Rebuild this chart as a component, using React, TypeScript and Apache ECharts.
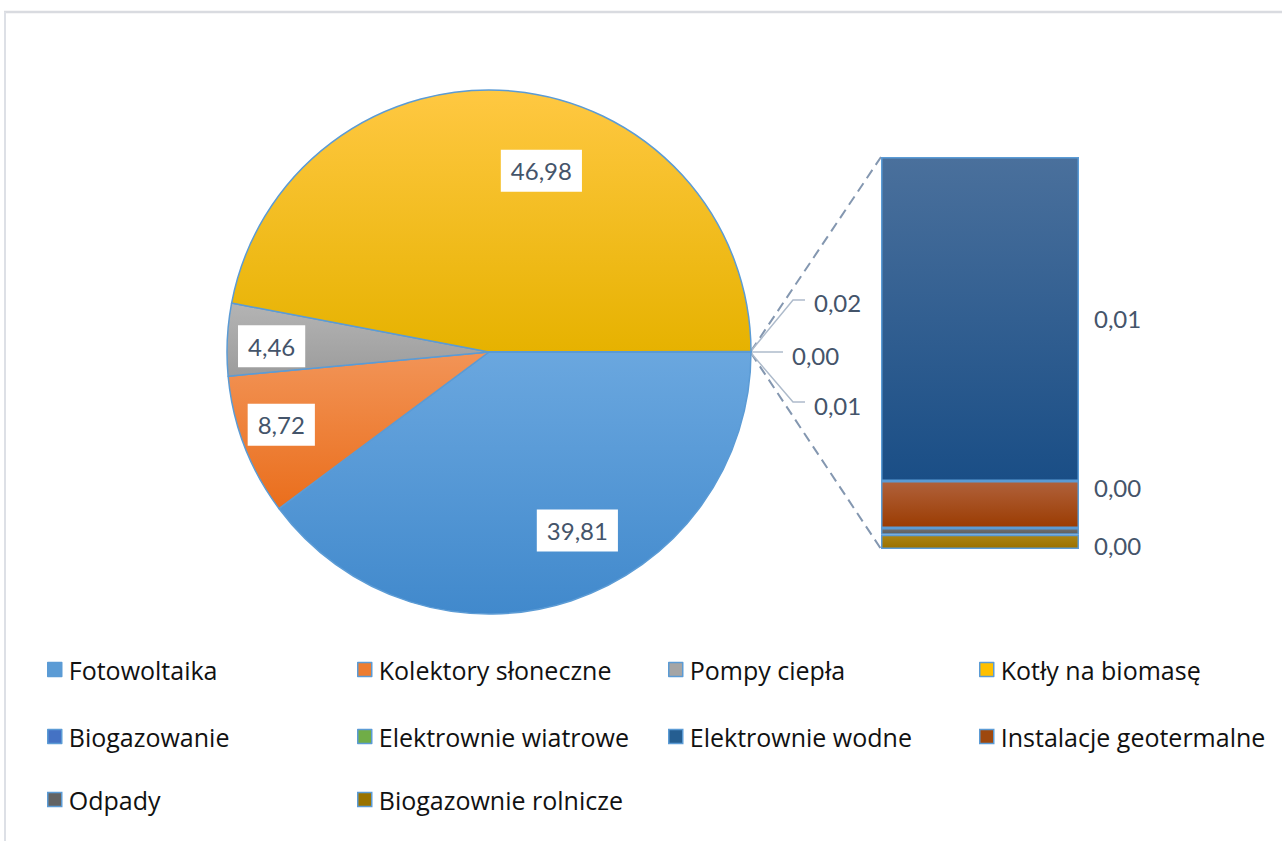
import React, { useEffect, useRef } from "react";
import * as echarts from "echarts";

// ---- data ----
const pieCategories = [
  "Fotowoltaika",
  "Kolektory słoneczne",
  "Pompy ciepła",
  "Kotły na biomasę",
  "Biogazowanie",
  "Elektrownie wiatrowe",
];
const pieValues = [39.81, 8.72, 4.46, 46.98, 0.02, 0.003];
const otherName = "Pozostałe";
const barCategories = [
  "Elektrownie wodne",
  "Instalacje geotermalne",
  "Odpady",
  "Biogazownie rolnicze",
];
const barValues = [0.008, 0.00116, 0.00017, 0.00035];

// ---- styles / layout ----
const FONT = "Lato, 'Noto Sans', sans-serif";
const LEGEND_FONT = "'Open Sans', 'Noto Sans', sans-serif";
const LABEL_COLOR = "#44546A";
const BORDER = "#5B9BD5";
const PIE_CX = 489;
const PIE_CY = 352;
const PIE_R = 262;
const BAR_LEFT = 881;
const BAR_TOP = 157;
const BAR_W = 198;
const BAR_H = 392;

const flatColors: Record<string, string> = {
  Fotowoltaika: "#5B9BD5",
  "Kolektory słoneczne": "#ED7D31",
  "Pompy ciepła": "#A5A5A5",
  "Kotły na biomasę": "#FFC000",
  Biogazowanie: "#4472C4",
  "Elektrownie wiatrowe": "#70AD47",
  "Elektrownie wodne": "#255E91",
  "Instalacje geotermalne": "#9E480E",
  Odpady: "#636363",
  "Biogazownie rolnicze": "#997300",
};
const gradStops: Record<string, [string, string]> = {
  Fotowoltaika: ["#6AA7DF", "#4189CC"],
  "Kolektory słoneczne": ["#F29457", "#EA6E1C"],
  "Pompy ciepła": ["#B4B4B4", "#9C9C9C"],
  "Kotły na biomasę": ["#FFC842", "#E6B200"],
  Biogazowanie: ["#4F7ED0", "#3D68B8"],
  "Elektrownie wiatrowe": ["#7CBB52", "#64A03D"],
  [otherName]: ["#4A709C", "#1A4E86"],
  "Elektrownie wodne": ["#4A709C", "#1A4E86"],
  "Instalacje geotermalne": ["#B0613B", "#9B3C02"],
  Odpady: ["#707070", "#5E5E5E"],
  "Biogazownie rolnicze": ["#AB8414", "#9A7100"],
};

const grad = (name: string) =>
  new echarts.graphic.LinearGradient(0, 0, 0, 1, [
    { offset: 0, color: gradStops[name][0] },
    { offset: 1, color: gradStops[name][1] },
  ]);

const fmt = (v: number) => v.toFixed(2).replace(".", ",");

// label placement tweaks for big slices: [angle offset deg, radius fraction]
const insideTweak: [number, number][] = [
  [-8, 0.76],
  [1.7, 0.84],
  [-1.2, 0.83],
  [10.8, 0.72],
];

export default function App() {
  const ref = useRef<HTMLDivElement>(null);

  useEffect(() => {
    if (!ref.current) return;
    const chart = echarts.init(ref.current, undefined, { renderer: "svg" });

    const otherValue = barValues.reduce((a, b) => a + b, 0);
    const allPieValues = [...pieValues, otherValue];
    const total = allPieValues.reduce((a, b) => a + b, 0);
    const midAngles: number[] = [];
    let acc = 0;
    allPieValues.forEach((v) => {
      midAngles.push(((acc + v / 2) / total) * 360);
      acc += v;
    });

    const pieData = [...pieCategories, otherName].map((name, i) => {
      const big = i < 4;
      return {
        name,
        value: allPieValues[i],
        itemStyle: { color: grad(name) },
        label: big
          ? {
              position: "inside",
              backgroundColor: "#ffffff",
              padding: [7, 10, 7, 10],
            }
          : { position: "outside" },
        labelLine: big
          ? { show: false }
          : {
              show: true,
              length: 20,
              length2: 12,
              lineStyle: { color: "#AEBBCB", width: 1.5 },
            },
      };
    });

    const edgeX = PIE_CX + PIE_R;
    const smallLayout: Record<number, { dx: number; dy: number; line: number[][] }> = {
      4: { dx: 63, dy: -50, line: [[0, -1], [42, -52], [54, -52]] },
      5: { dx: 41, dy: 3, line: [[0, 0], [32, 0]] },
      6: { dx: 63, dy: 53, line: [[0, 1], [42, 50], [54, 50]] },
    };

    const stackOrder = [3, 2, 1, 0]; // bottom to top
    const barLabelOffsets: Record<number, [number, number] | null> = {
      0: [0, 0],
      1: [0, -17],
      2: null,
      3: [0, 4],
    };
    const barSeries = stackOrder.map((idx) => {
      const name = barCategories[idx];
      const off = barLabelOffsets[idx];
      return {
        type: "bar",
        name,
        stack: "other",
        xAxisIndex: 0,
        yAxisIndex: 0,
        barWidth: "100%",
        data: [barValues[idx]],
        itemStyle: { color: grad(name), borderColor: BORDER, borderWidth: 1.5 },
        emphasis: { disabled: true },
        label: {
          show: off !== null,
          position: "right",
          distance: 15,
          offset: off || [0, 0],
          formatter: (p: any) => fmt(p.value),
          color: LABEL_COLOR,
          fontSize: 24,
          fontFamily: FONT,
        },
      };
    });

    const legendNames = [...pieCategories, ...barCategories];
    const cols = [47, 357, 668, 979];
    const rows = [657, 724, 787];
    const legends = legendNames.map((name, i) => ({
      data: [
        {
          name,
          itemStyle: { color: flatColors[name], borderColor: BORDER, borderWidth: 1.5 },
        },
      ],
      left: cols[i % 4],
      top: rows[Math.floor(i / 4)],
      padding: 0,
      icon: "rect",
      itemWidth: 14,
      itemHeight: 14,
      itemGap: 0,
      selectedMode: false,
      textStyle: {
        fontSize: 25,
        color: "#111111",
        fontFamily: LEGEND_FONT,
        padding: [0, 0, 0, 2],
      },
    }));

    chart.setOption({
      animation: false,
      backgroundColor: "#ffffff",
      textStyle: { fontFamily: FONT },
      legend: legends,
      grid: { left: BAR_LEFT, top: BAR_TOP, width: BAR_W, height: BAR_H },
      xAxis: { type: "category", data: ["Pozostałe"], show: false },
      yAxis: { type: "value", min: 0, max: otherValue, show: false },
      graphic: [
        {
          type: "line",
          shape: { x1: 4, y1: 12, x2: 1282, y2: 12 },
          style: { stroke: "#D9DBE0", lineWidth: 2.5 },
          silent: true,
        },
        {
          type: "line",
          shape: { x1: 5, y1: 12, x2: 5, y2: 841 },
          style: { stroke: "#DDE0E6", lineWidth: 2 },
          silent: true,
        },
        {
          type: "line",
          shape: { x1: edgeX, y1: PIE_CY - 1, x2: BAR_LEFT, y2: BAR_TOP },
          style: { stroke: "#8497B0", lineWidth: 2, lineDash: [10, 6] },
          silent: true,
          z: -1,
        },
        {
          type: "line",
          shape: { x1: edgeX, y1: PIE_CY + 1, x2: BAR_LEFT, y2: BAR_TOP + BAR_H },
          style: { stroke: "#8497B0", lineWidth: 2, lineDash: [10, 6] },
          silent: true,
          z: -1,
        },
      ],
      series: [
        {
          type: "pie",
          center: [PIE_CX, PIE_CY],
          radius: PIE_R,
          startAngle: 0,
          clockwise: true,
          avoidLabelOverlap: false,
          emphasis: { disabled: true },
          itemStyle: { borderColor: BORDER, borderWidth: 1.5 },
          label: {
            show: true,
            formatter: (p: any) => fmt(p.value),
            color: LABEL_COLOR,
            fontSize: 24,
            lineHeight: 28,
            fontFamily: FONT,
          },
          labelLayout: (params: any) => {
            const i = params.dataIndex;
            if (i < 4) {
              const [da, rf] = insideTweak[i];
              const a = ((midAngles[i] + da) * Math.PI) / 180;
              return {
                x: PIE_CX + PIE_R * rf * Math.cos(a),
                y: PIE_CY + PIE_R * rf * Math.sin(a),
                align: "center",
                verticalAlign: "middle",
              };
            }
            const s = smallLayout[i];
            if (!s) return {};
            return {
              x: edgeX + s.dx,
              y: PIE_CY + s.dy,
              align: "left",
              verticalAlign: "middle",
              labelLinePoints: s.line.map(([x, y]) => [edgeX + x, PIE_CY + y]),
            };
          },
          data: pieData,
        },
        ...barSeries,
      ],
    });

    return () => chart.dispose();
  }, []);

  return (
    <div
      ref={ref}
      style={{ position: "fixed", left: 0, top: 0, width: 1282, height: 841 }}
    />
  );
}
